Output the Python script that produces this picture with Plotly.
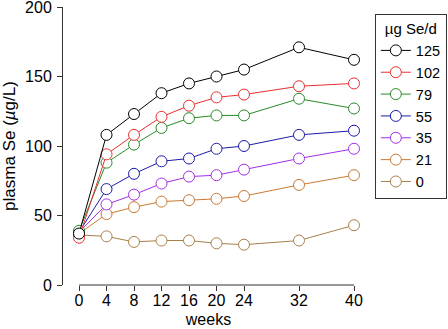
import plotly.graph_objects as go

weeks = [0, 4, 8, 12, 16, 20, 24, 32, 40]
doses = ["125", "102", "79", "55", "35", "21", "0"]
se_125 = [37, 108, 123, 138, 145, 150, 155, 171, 162]
se_102 = [34, 94, 108, 121, 129, 135, 137, 143, 145]
se_79 = [39, 88, 101, 113, 120, 122, 122, 134, 127]
se_55 = [38, 69, 80, 89, 91, 98, 100, 108, 111]
se_35 = [38, 58, 65, 73, 78, 79, 83, 91, 98]
se_21 = [37, 51, 56, 60, 61, 62, 64, 72, 79]
se_0 = [36, 35, 31, 32, 32, 30, 29, 32, 43]
series = [se_125, se_102, se_79, se_55, se_35, se_21, se_0]
colors = ["#000000", "#e8312f", "#2a8a2a", "#1c1ca8", "#a42ee8", "#c87a34", "#a88048"]
x_ticks = [0, 4, 8, 12, 16, 20, 24, 32, 40]
y_ticks = [0, 50, 100, 150, 200]

fig = go.Figure()
# draw lowest dose first so the highest sits on top
for name, vals, col in reversed(list(zip(doses, series, colors))):
    fig.add_trace(go.Scatter(
        x=weeks, y=vals, name=name, mode="lines+markers",
        line=dict(color=col, width=1),
        marker=dict(size=11, color="white", line=dict(color=col, width=1)),
        cliponaxis=False,
    ))

font = "Liberation Sans, Arial, sans-serif"
fig.update_layout(
    width=448, height=329,
    margin=dict(l=63, r=94, t=7, b=44, autoexpand=False),
    plot_bgcolor="white", paper_bgcolor="white",
    font=dict(family=font, size=16, color="black"),
    showlegend=True,
    legend=dict(
        title=dict(text="µg Se/d", font=dict(size=15), side="top center"),
        traceorder="reversed",
        x=1.319, y=0.975, xanchor="right", yanchor="top",
        bordercolor="#333333", borderwidth=1, bgcolor="white",
        font=dict(size=14.5), itemwidth=30, tracegroupgap=0,
    ),
    xaxis=dict(
        range=[-2.33, 40], tickvals=x_ticks, showline=False, showgrid=False,
        zeroline=False, ticks="outside", ticklen=5, tickcolor="#333333",
        tickfont=dict(size=16), automargin=False, ticklabelstandoff=-4,
        title=dict(text="weeks", font=dict(size=16), standoff=5),
    ),
    yaxis=dict(
        range=[0, 200], tickvals=y_ticks, showline=True, linecolor="#333333",
        linewidth=1, showgrid=False, zeroline=False, ticks="outside", ticklen=5,
        tickcolor="#333333", tickfont=dict(size=16), automargin=False,
        ticklabeloverflow="allow", ticklabelstandoff=2,
        title=dict(text="plasma Se (<i>µ</i>g/L)", font=dict(size=17), standoff=8),
    ),
)
fig.add_shape(type="line", xref="x", yref="paper", x0=0, x1=40, y0=0, y1=0,
              line=dict(color="#333333", width=1))
fig.write_html("out.html", config={"displayModeBar": False},
               post_script="document.body.style.margin='0';")
